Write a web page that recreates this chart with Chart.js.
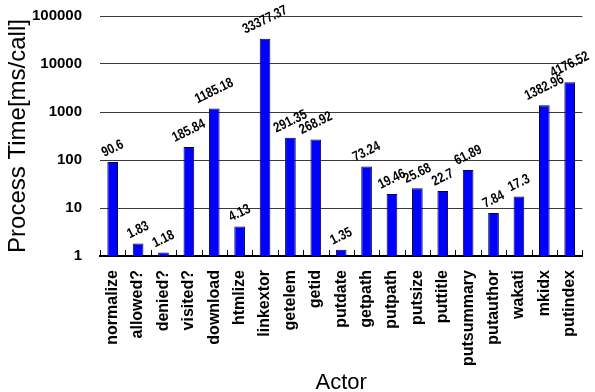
<!DOCTYPE html>
<html>
<head>
<meta charset="utf-8">
<script src="https://cdn.jsdelivr.net/npm/chart.js@4/dist/chart.umd.min.js"></script>
<style>
  html, body { margin: 0; padding: 0; background: #fff; }
  #wrap { width: 595px; height: 392px; }
</style>
</head>
<body>
<div id="wrap"><canvas id="c" width="595" height="392"></canvas></div>
<script>
// Actors and their average processing time per call (ms)
const actors = ['normalize', 'allowed?', 'denied?', 'visited?', 'download', 'htmlize',
  'linkextor', 'getelem', 'getid', 'putdate', 'getpath', 'putpath', 'putsize',
  'puttitle', 'putsummary', 'putauthor', 'wakati', 'mkidx', 'putindex'];
const msPerCall = [90.6, 1.83, 1.18, 185.84, 1185.18, 4.13,
  33377.37, 291.35, 268.92, 1.35, 73.24, 19.46, 25.68,
  22.7, 61.89, 7.84, 17.3, 1382.96, 4176.52];
const yTicks = [1, 10, 100, 1000, 10000, 100000];

const FONT = '"Liberation Sans", Arial, sans-serif';
const LABEL_ANGLE = 26 * Math.PI / 180;
const LABEL_SQUEEZE = 0.82;

// Value labels above bars plus small category tick marks along the x axis
const barDecor = {
  id: 'barDecor',
  afterDatasetsDraw(chart) {
    const ctx = chart.ctx;
    const x = chart.scales.x;
    const area = chart.chartArea;
    ctx.save();
    // tick marks at category boundaries, pointing up into the plot
    ctx.strokeStyle = '#000';
    ctx.lineWidth = 1;
    ctx.beginPath();
    const step = x.getPixelForValue(1) - x.getPixelForValue(0);
    for (let i = 0; i <= actors.length; i++) {
      const bx = Math.round(x.getPixelForValue(0) + (i - 0.5) * step) + 0.5;
      ctx.moveTo(bx, area.bottom);
      ctx.lineTo(bx, area.bottom - 6);
    }
    ctx.stroke();
    // value labels: slanted, condensed, box centred over the bar and resting on its top
    const meta = chart.getDatasetMeta(0);
    ctx.fillStyle = '#000';
    ctx.font = 'bold 14px ' + FONT;
    ctx.textAlign = 'center';
    ctx.textBaseline = 'middle';
    const h = 10;
    meta.data.forEach((bar, i) => {
      const txt = String(msPerCall[i]);
      const w = ctx.measureText(txt).width * LABEL_SQUEEZE;
      const cy = bar.y - 4 - (w / 2) * Math.sin(LABEL_ANGLE) - (h / 2) * Math.cos(LABEL_ANGLE);
      ctx.save();
      ctx.translate(bar.x, cy);
      ctx.rotate(-LABEL_ANGLE);
      ctx.scale(LABEL_SQUEEZE, 1);
      ctx.fillText(txt, 0, 0);
      ctx.restore();
    });
    ctx.restore();
  }
};

new Chart(document.getElementById('c'), {
  type: 'bar',
  data: {
    labels: actors,
    datasets: [{
      data: msPerCall,
      backgroundColor: '#0000ff',
      borderColor: '#00004a',
      borderWidth: 1,
      barPercentage: 0.42,
      categoryPercentage: 1
    }]
  },
  options: {
    responsive: false,
    animation: false,
    devicePixelRatio: 1,
    layout: { padding: { left: 0, right: 4, top: 16, bottom: 0 } },
    plugins: { legend: { display: false }, tooltip: { enabled: false } },
    scales: {
      x: {
        grid: { display: false },
        border: { display: true, color: '#000', width: 2 },
        ticks: {
          color: '#000',
          font: { family: FONT, size: 16, weight: 'bold' },
          minRotation: 90, maxRotation: 90,
          padding: 6,
          autoSkip: false
        },
        title: {
          display: true,
          text: 'Actor',
          color: '#000',
          font: { family: FONT, size: 22, lineHeight: 0.8 },
          padding: { top: 0, bottom: 0 }
        },
        afterFit(scale) { scale.height = 136; }
      },
      y: {
        type: 'logarithmic',
        min: 1,
        max: 100000,
        afterBuildTicks(scale) { scale.ticks = yTicks.map(v => ({ value: v })); },
        grid: {
          color: ctx => (ctx.tick && ctx.tick.value === 1 ? '#000' : '#3a3a3a'),
          lineWidth: 1,
          drawTicks: false
        },
        border: { display: false },
        ticks: {
          color: '#000',
          font: { family: FONT, size: 15, weight: 'bold' },
          padding: 18,
          callback: v => String(v)
        },
        title: {
          display: true,
          text: 'Process Time[ms/call]',
          color: '#000',
          font: { family: FONT, size: 24 },
          padding: { top: 4, bottom: 0 }
        },
        afterFit(scale) {
          scale.width = 100;
          scale.paddingTop = 0;
          scale.paddingBottom = 0;
        }
      }
    }
  },
  plugins: [barDecor]
});
</script>
</body>
</html>
